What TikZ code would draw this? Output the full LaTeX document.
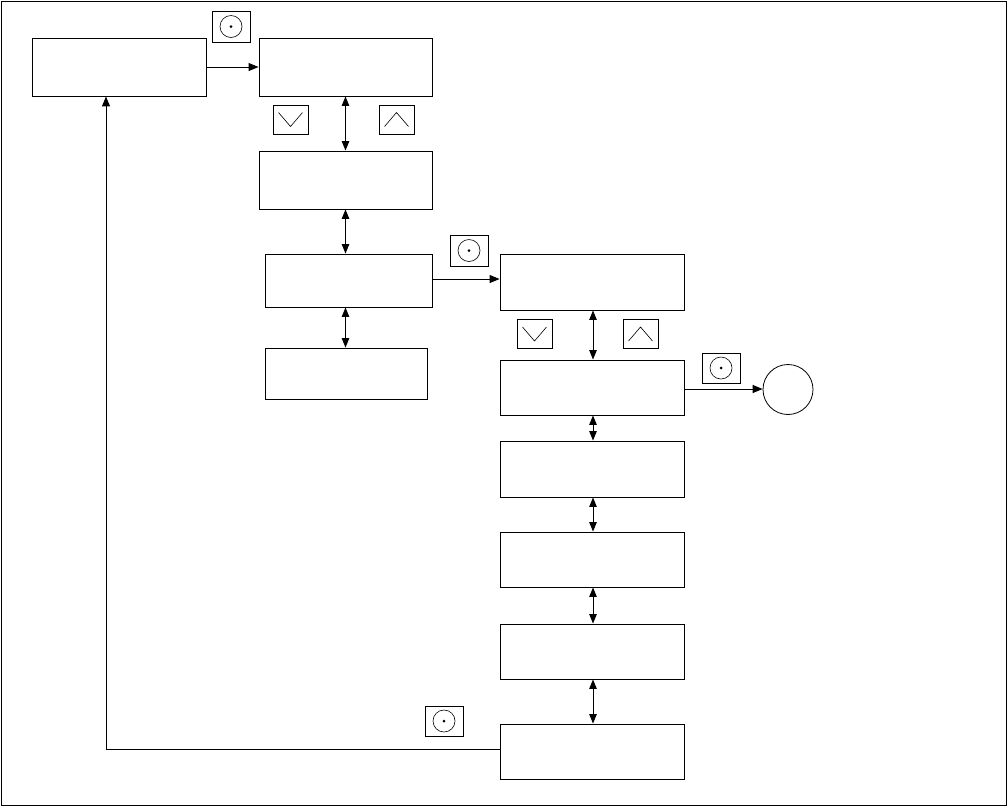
\documentclass[tikz,border=0pt]{standalone}
\usepackage{tikz}
\usetikzlibrary{positioning,arrows.meta,calc}

\tikzset{
  menubox/.style={draw, line width=0.9pt, minimum width=184pt, minimum height=55pt, inner sep=0pt},
  keybox/.style={draw, line width=0.8pt, minimum width=38pt, minimum height=31pt, inner sep=0pt},
  navbox/.style={keybox, minimum width=35pt, minimum height=29pt},
  flow/.style={line width=1pt, -{Triangle[length=10pt,width=8pt]}},
  twoway/.style={line width=1pt, {Triangle[length=9.5pt,width=7.5pt]}-{Triangle[length=9.5pt,width=7.5pt]}},
}
\newcommand{\okmark}[1]{\draw[line width=0.6pt] (#1.center) circle (11pt); \fill (#1.center) circle (1.5pt);}
\newcommand{\downmark}[1]{\draw[line width=0.6pt] ([shift={(-12,-7)}]#1.center) -- ++(12,14) -- ++(12,-14);}
\newcommand{\upmark}[1]{\draw[line width=0.6pt] ([shift={(-12,7)}]#1.center) -- ++(12,-14) -- ++(12,14);}

\begin{document}
\begin{tikzpicture}[x=1pt, y=-1pt]
  \useasboundingbox (0,0) rectangle (1008,807);
  \draw[line width=1pt] (1,1) rectangle (1006,805);

  % first column
  \node[menubox, minimum width=174pt, minimum height=58pt] (home) at (119,67) {};
  \node[menubox, minimum width=173pt, minimum height=58pt] (set1) at (345.5,67) {};
  \node[menubox, minimum width=173pt, minimum height=58pt] (set2) at (345.5,180) {};
  \node[menubox, minimum width=167pt, minimum height=53pt] (set3) at (348.5,280.5) {};
  \node[menubox, minimum width=162pt, minimum height=51pt] (set4) at (346,373.5) {};

  % second column
  \node[menubox, minimum height=56pt] (opt1) at (592,282) {};
  \node[menubox] (opt2) at (592,387.5) {};
  \node[menubox, minimum height=56pt] (opt3) at (592,469) {};
  \node[menubox] (opt4) at (592,559.5) {};
  \node[menubox] (opt5) at (592,651.5) {};
  \node[menubox] (opt6) at (592,751.5) {};
  \node[draw, circle, line width=0.8pt, minimum size=50pt, inner sep=0pt] (endpt) at (788,389.5) {};

  % keys
  \node[keybox] (ok1) at (231,26.5) {};
  \node[navbox] (dn1) at (290.5,119.5) {};
  \node[navbox] (up1) at (396.5,119.5) {};
  \node[keybox] (ok2) at (469,250.5) {};
  \node[navbox] (dn2) at (534.5,334) {};
  \node[navbox] (up2) at (640.5,334) {};
  \node[keybox, minimum height=30pt] (ok3) at (721,368) {};
  \node[keybox, minimum height=30pt] (ok4) at (444,721) {};
  \okmark{ok1} \okmark{ok2} \okmark{ok3} \okmark{ok4}
  \downmark{dn1} \downmark{dn2}
  \upmark{up1} \upmark{up2}

  % links
  \draw[flow] (home.east) -- (set1.west);
  \draw[twoway] (set1.south) -- (set2.north);
  \draw[twoway] (set2.south) -- (set2.south |- set3.north);
  \draw[twoway] (set2.south |- set3.south) -- (set2.south |- set4.north);
  \draw[flow] ([yshift=1.5pt]set3.east) -- ([yshift=1.5pt]set3.east -| opt1.west);
  \draw[twoway] ([xshift=1pt]opt1.south) -- ([xshift=1pt]opt2.north);
  \draw[flow] ([yshift=-1.5pt]opt2.east) -- ([yshift=-1.5pt]opt2.east -| endpt.west);
  \draw[twoway] ([xshift=1pt]opt2.south) -- ([xshift=1pt]opt3.north);
  \draw[twoway] ([xshift=1pt]opt3.south) -- ([xshift=1pt]opt4.north);
  \draw[twoway] ([xshift=1pt]opt4.south) -- ([xshift=1pt]opt5.north);
  \draw[twoway] ([xshift=1pt]opt5.south) -- ([xshift=1pt]opt6.north);
  \draw[flow] ([yshift=2.5pt]opt6.west) -| ([xshift=-13pt]home.south);
\end{tikzpicture}
\end{document}
